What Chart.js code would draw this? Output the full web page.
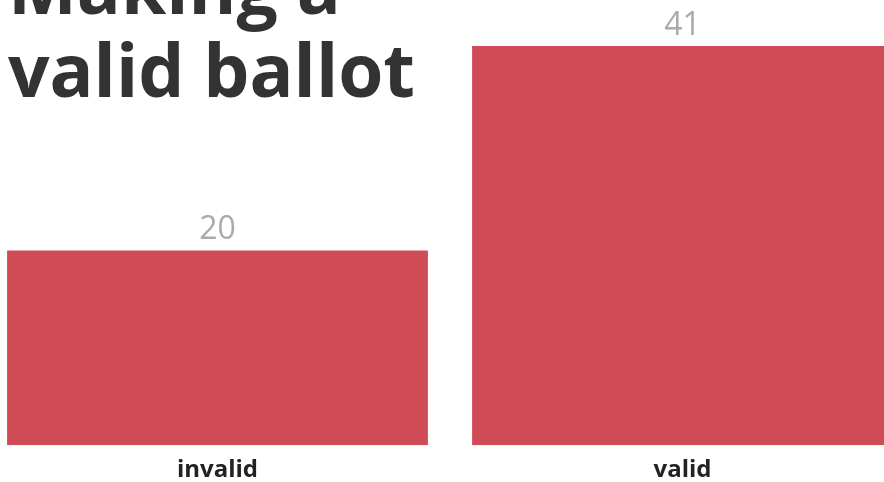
<!DOCTYPE html>
<html>
<head>
<meta charset="utf-8">
<script src="https://cdn.jsdelivr.net/npm/chart.js@4"></script>
<style>
  html, body { margin: 0; padding: 0; background: #fff; overflow: hidden; }
  body { width: 884px; height: 482px; position: relative; }
  #wrap { position: absolute; left: -15px; top: 0; width: 930px; height: 496px; }
  #title {
    position: absolute; left: 8px; top: -56px; margin: 0;
    font-family: "Open Sans", sans-serif; font-weight: 700;
    font-size: 73px; line-height: 83px; color: #333;
    z-index: 2; pointer-events: none;
  }
</style>
</head>
<body>
<h1 id="title">Making a<br>valid ballot</h1>
<div id="wrap"><canvas id="myChart"></canvas></div>
<script>
// Chart data
const categories = ['invalid', 'valid'];
const counts = [20, 41];

// Draw the value above each bar
const valueLabels = {
    id: 'valueLabels',
    afterDatasetsDraw(chart) {
        const ctx = chart.ctx;
        const meta = chart.getDatasetMeta(0);
        ctx.save();
        ctx.font = '32px "Open Sans", sans-serif';
        ctx.fillStyle = '#aaaaaa';
        ctx.textAlign = 'center';
        ctx.textBaseline = 'alphabetic';
        meta.data.forEach((bar, i) => {
            ctx.fillText(String(counts[i]), bar.x, bar.y - 11);
        });
        ctx.restore();
    }
};

const ctx = document.getElementById('myChart').getContext('2d');
new Chart(ctx, {
    type: 'bar',
    data: {
        labels: categories,
        datasets: [{
            data: counts,
            backgroundColor: '#cf4c57',
            borderWidth: 0,
            barPercentage: 0.905,
            categoryPercentage: 1
        }]
    },
    options: {
        responsive: true,
        maintainAspectRatio: false,
        animation: false,
        layout: { padding: { top: 7, left: 0, right: 0, bottom: 0 } },
        plugins: {
            legend: { display: false },
            tooltip: { enabled: false }
        },
        scales: {
            x: {
                grid: { display: false, drawTicks: false },
                border: { display: false },
                ticks: {
                    color: '#222',
                    padding: 11,
                    font: { family: '"Open Sans", sans-serif', size: 24, weight: 'bold' }
                }
            },
            y: {
                display: false,
                min: 0,
                max: 45
            }
        }
    },
    plugins: [valueLabels]
});
</script>
</body>
</html>
